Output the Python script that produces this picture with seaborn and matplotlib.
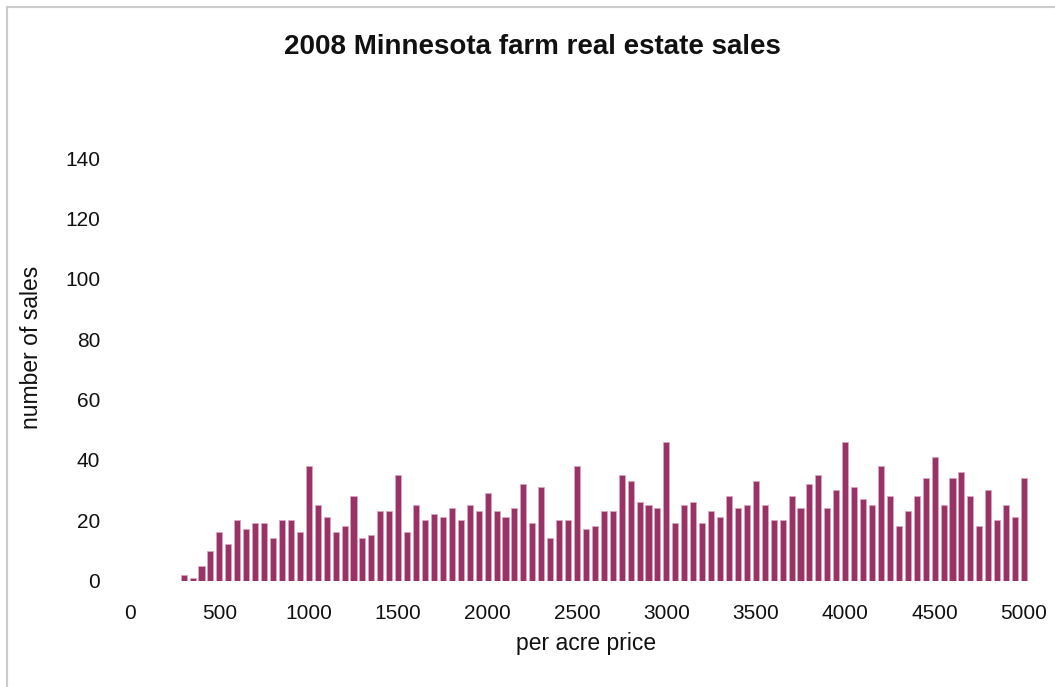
import matplotlib
matplotlib.use("Agg")
import matplotlib.pyplot as plt
import seaborn as sns
import pandas as pd
from matplotlib.lines import Line2D

# per acre price buckets (every $50 from 300 to 5000)
price = list(range(300, 5001, 50))
# number of sales
sales = [2, 1, 5, 10, 16, 12, 20, 17, 19, 19,
         14, 20, 20, 16, 38, 25, 21, 16, 18, 28,
         14, 15, 23, 23, 35, 16, 25, 20, 22, 21,
         24, 20, 25, 23, 29, 23, 21, 24, 32, 19,
         31, 14, 20, 20, 38, 17, 18, 23, 23, 35,
         33, 26, 25, 24, 46, 19, 25, 26, 19, 23,
         21, 28, 24, 25, 33, 25, 20, 20, 28, 24,
         32, 35, 24, 30, 46, 31, 27, 25, 38, 28,
         18, 23, 28, 34, 41, 25, 34, 36, 28, 18,
         30, 20, 25, 21, 34]
xticks = list(range(0, 5001, 500))
yticks = list(range(0, 141, 20))

df = pd.DataFrame({"price": price, "sales": sales})

sns.set_style("white")
plt.rcParams["font.family"] = ["Liberation Sans", "DejaVu Sans"]

W, H = 1055, 687
fig = plt.figure(figsize=(W / 100, H / 100), dpi=100)
# axes placed in pixel terms: x 0..5000 -> 130..1024 px, y 0..140 -> 580.7..158 px
ppu = (1024 - 130) / 5000
left = 130 - 50 * ppu
right = 1024 + 50 * ppu
ax = fig.add_axes([left / W, (H - 580.7) / H, (right - left) / W, (580.7 - 158) / H])

ax.bar(df["price"], df["sales"], width=34, color="#993366",
       edgecolor="#d9a6c0", linewidth=0.6)

ax.set_xlim(-50, 5050)
ax.set_ylim(0, 140)
ax.set_xticks(xticks)
ax.set_yticks(yticks)
ax.tick_params(axis="both", length=0, labelsize=15, colors="#111111")
ax.tick_params(axis="x", pad=17)
ax.tick_params(axis="y", pad=15)
sns.despine(ax=ax, left=True, bottom=True)

ax.set_xlabel("per acre price", fontsize=16.5, color="#111111")
ax.set_ylabel("number of sales", fontsize=16.5, color="#111111")
ax.xaxis.set_label_coords((586 - left) / (right - left), (580.7 - 632) / 422.7)
ax.yaxis.set_label_coords((43 - left) / (right - left), (580.7 - 347) / 422.7)

fig.text(532 / W, 1 - 47 / H, "2008 Minnesota farm real estate sales",
         ha="center", va="center", fontsize=20, fontweight="bold",
         color="#111111")

# light grey frame on the left and top of the chart area
fig.add_artist(Line2D([6.5 / W, 6.5 / W], [0, 1 - 7 / H], transform=fig.transFigure,
                      color="#cccccc", linewidth=1.5))
fig.add_artist(Line2D([6.5 / W, 1], [1 - 7 / H, 1 - 7 / H], transform=fig.transFigure,
                      color="#cccccc", linewidth=1.5))

fig.savefig("out.png", dpi=100)
